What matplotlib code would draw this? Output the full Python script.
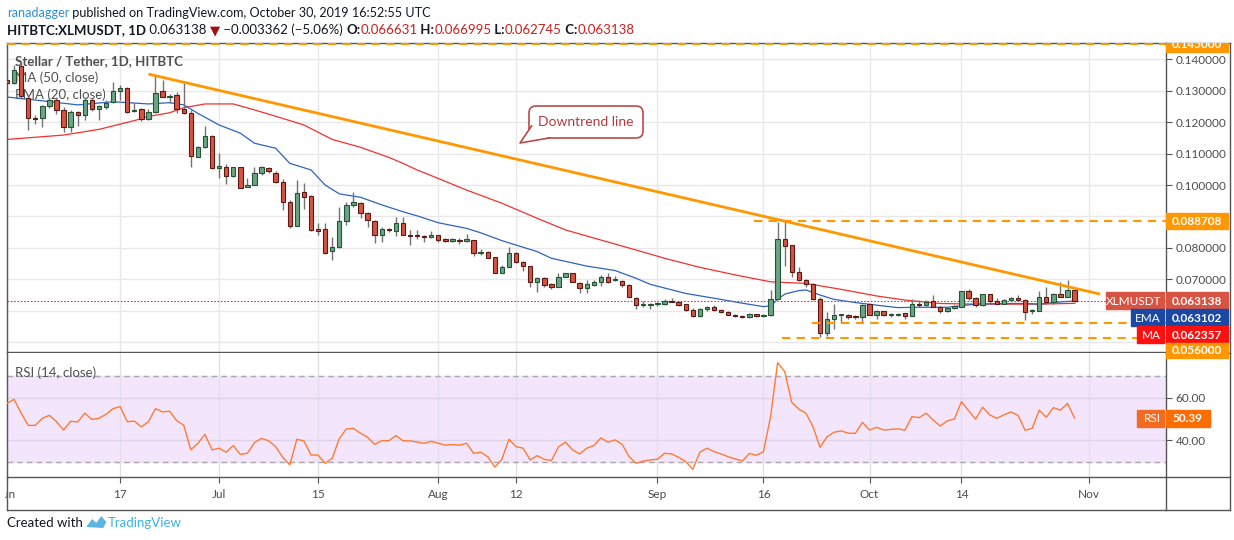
import numpy as np
import matplotlib
matplotlib.use('Agg')
import matplotlib.pyplot as plt
from matplotlib.patches import Rectangle, FancyBboxPatch, Polygon
from matplotlib.transforms import Bbox

plt.rcParams['font.family'] = ['Lato', 'DejaVu Sans']

# daily candles, 1 Jun 2019 (day 0) .. 30 Oct 2019 (day 151)
opens = [0.1334, 0.1326, 0.1380, 0.1276, 0.1214, 0.1212, 0.1252, 0.1269, 0.1239, 0.1184,
         0.1233, 0.1223, 0.1269, 0.1241, 0.1247, 0.1265, 0.1299, 0.1308, 0.1234, 0.1241,
         0.1209, 0.1233, 0.1299, 0.1280, 0.1286, 0.1241, 0.1228, 0.1088, 0.1120, 0.1156,
         0.1053, 0.1058, 0.1029, 0.1056, 0.0993, 0.1000, 0.1037, 0.1053, 0.1039, 0.1011,
         0.0947, 0.0871, 0.0979, 0.0966, 0.0859, 0.0859, 0.0791, 0.0804, 0.0884, 0.0935,
         0.0944, 0.0910, 0.0887, 0.0840, 0.0860, 0.0855, 0.0878, 0.0842, 0.0841, 0.0836,
         0.0834, 0.0840, 0.0827, 0.0821, 0.0825, 0.0821, 0.0825, 0.0783, 0.0787, 0.0770,
         0.0719, 0.0738, 0.0783, 0.0754, 0.0743, 0.0690, 0.0703, 0.0685, 0.0677, 0.0706,
         0.0719, 0.0687, 0.0671, 0.0681, 0.0690, 0.0706, 0.0697, 0.0696, 0.0683, 0.0640,
         0.0617, 0.0619, 0.0620, 0.0621, 0.0632, 0.0629, 0.0621, 0.0601, 0.0583, 0.0604,
         0.0613, 0.0601, 0.0596, 0.0588, 0.0584, 0.0580, 0.0589, 0.0583, 0.0585, 0.0636,
         0.0827, 0.0809, 0.0722, 0.0698, 0.0684, 0.0636, 0.0528, 0.0573, 0.0585, 0.0586,
         0.0584, 0.0579, 0.0620, 0.0588, 0.0598, 0.0585, 0.0586, 0.0592, 0.0584, 0.0620,
         0.0617, 0.0631, 0.0613, 0.0598, 0.0608, 0.0613, 0.0662, 0.0640, 0.0617, 0.0652,
         0.0632, 0.0623, 0.0634, 0.0639, 0.0634, 0.0598, 0.0600, 0.0643, 0.0627, 0.0652,
         0.0645, 0.066631]
highs = [0.1338, 0.1382, 0.1395, 0.1285, 0.1223, 0.1255, 0.1281, 0.1281, 0.1249, 0.1239,
         0.1237, 0.1281, 0.1276, 0.1255, 0.1271, 0.1327, 0.1318, 0.1313, 0.1260, 0.1244,
         0.1241, 0.1347, 0.1334, 0.1290, 0.1297, 0.1329, 0.1239, 0.1124, 0.1188, 0.1159,
         0.1101, 0.1066, 0.1058, 0.1058, 0.1021, 0.1058, 0.1060, 0.1056, 0.1046, 0.1018,
         0.0952, 0.1016, 0.1005, 0.0968, 0.0880, 0.0880, 0.0836, 0.0931, 0.0947, 0.0979,
         0.0947, 0.0915, 0.0889, 0.0868, 0.0862, 0.0899, 0.0899, 0.0857, 0.0857, 0.0841,
         0.0855, 0.0841, 0.0833, 0.0830, 0.0830, 0.0844, 0.0825, 0.0795, 0.0790, 0.0770,
         0.0745, 0.0802, 0.0786, 0.0758, 0.0743, 0.0708, 0.0706, 0.0689, 0.0721, 0.0721,
         0.0721, 0.0691, 0.0698, 0.0698, 0.0713, 0.0721, 0.0711, 0.0698, 0.0685, 0.0645,
         0.0632, 0.0625, 0.0629, 0.0636, 0.0639, 0.0632, 0.0623, 0.0608, 0.0608, 0.0616,
         0.0618, 0.0606, 0.0600, 0.0591, 0.0586, 0.0592, 0.0590, 0.0589, 0.0666, 0.0883,
         0.0889, 0.0809, 0.0740, 0.0701, 0.0687, 0.0645, 0.0597, 0.0621, 0.0591, 0.0591,
         0.0586, 0.0621, 0.0623, 0.0602, 0.0600, 0.0592, 0.0592, 0.0594, 0.0636, 0.0634,
         0.0634, 0.0650, 0.0615, 0.0613, 0.0617, 0.0664, 0.0668, 0.0643, 0.0652, 0.0652,
         0.0640, 0.0636, 0.0643, 0.0649, 0.0636, 0.0605, 0.0664, 0.0674, 0.0655, 0.0692,
         0.0698, 0.066995]
lows = [0.1322, 0.1323, 0.1275, 0.1175, 0.1194, 0.1186, 0.1244, 0.1226, 0.1170, 0.1170,
        0.1188, 0.1207, 0.1234, 0.1207, 0.1241, 0.1262, 0.1270, 0.1228, 0.1233, 0.1205,
        0.1207, 0.1230, 0.1281, 0.1260, 0.1228, 0.1226, 0.1056, 0.1088, 0.1119, 0.1052,
        0.1021, 0.1003, 0.1027, 0.0990, 0.0993, 0.1000, 0.1032, 0.1037, 0.1005, 0.0921,
        0.0862, 0.0871, 0.0923, 0.0855, 0.0841, 0.0781, 0.0762, 0.0799, 0.0873, 0.0931,
        0.0894, 0.0868, 0.0817, 0.0820, 0.0852, 0.0838, 0.0841, 0.0809, 0.0827, 0.0820,
        0.0830, 0.0820, 0.0819, 0.0820, 0.0811, 0.0819, 0.0774, 0.0777, 0.0767, 0.0719,
        0.0719, 0.0738, 0.0753, 0.0727, 0.0676, 0.0661, 0.0677, 0.0670, 0.0677, 0.0706,
        0.0691, 0.0657, 0.0657, 0.0679, 0.0679, 0.0687, 0.0696, 0.0677, 0.0643, 0.0606,
        0.0613, 0.0606, 0.0616, 0.0617, 0.0627, 0.0615, 0.0600, 0.0581, 0.0581, 0.0600,
        0.0598, 0.0592, 0.0585, 0.0581, 0.0578, 0.0576, 0.0581, 0.0581, 0.0583, 0.0636,
        0.0743, 0.0708, 0.0696, 0.0674, 0.0634, 0.0517, 0.0520, 0.0541, 0.0562, 0.0575,
        0.0575, 0.0565, 0.0586, 0.0574, 0.0583, 0.0581, 0.0583, 0.0574, 0.0582, 0.0611,
        0.0615, 0.0611, 0.0594, 0.0595, 0.0606, 0.0613, 0.0634, 0.0611, 0.0615, 0.0621,
        0.0621, 0.0621, 0.0632, 0.0632, 0.0571, 0.0589, 0.0598, 0.0621, 0.0623, 0.0645,
        0.0645, 0.062745]
closes = [0.1325, 0.1366, 0.1282, 0.1212, 0.1210, 0.1251, 0.1271, 0.1239, 0.1186, 0.1233,
          0.1223, 0.1271, 0.1241, 0.1250, 0.1262, 0.1299, 0.1308, 0.1233, 0.1238, 0.1209,
          0.1233, 0.1294, 0.1281, 0.1284, 0.1241, 0.1228, 0.1092, 0.1120, 0.1156, 0.1053,
          0.1060, 0.1029, 0.1056, 0.0992, 0.1000, 0.1037, 0.1056, 0.1046, 0.1011, 0.0947,
          0.0871, 0.0976, 0.0963, 0.0857, 0.0855, 0.0785, 0.0804, 0.0887, 0.0937, 0.0947,
          0.0910, 0.0889, 0.0841, 0.0859, 0.0856, 0.0878, 0.0842, 0.0839, 0.0837, 0.0834,
          0.0841, 0.0825, 0.0821, 0.0827, 0.0821, 0.0827, 0.0783, 0.0788, 0.0769, 0.0719,
          0.0738, 0.0783, 0.0754, 0.0743, 0.0692, 0.0704, 0.0683, 0.0677, 0.0706, 0.0719,
          0.0691, 0.0671, 0.0684, 0.0691, 0.0707, 0.0692, 0.0699, 0.0682, 0.0645, 0.0618,
          0.0621, 0.0622, 0.0624, 0.0631, 0.0629, 0.0617, 0.0602, 0.0583, 0.0604, 0.0612,
          0.0601, 0.0595, 0.0588, 0.0583, 0.0580, 0.0590, 0.0583, 0.0587, 0.0636, 0.0827,
          0.0807, 0.0722, 0.0698, 0.0684, 0.0636, 0.0528, 0.0573, 0.0586, 0.0589, 0.0581,
          0.0579, 0.0618, 0.0588, 0.0598, 0.0585, 0.0590, 0.0590, 0.0584, 0.0620, 0.0617,
          0.0629, 0.0613, 0.0599, 0.0610, 0.0615, 0.0662, 0.0640, 0.0617, 0.0652, 0.0631,
          0.0623, 0.0634, 0.0639, 0.0634, 0.0595, 0.0602, 0.0643, 0.0627, 0.0652, 0.0645,
          0.0666, 0.063138]

# moving averages (day index, value)
ema_days = [0, 5, 10, 15, 20, 23, 25, 27, 30, 33, 35, 38, 40, 43, 45, 47, 50, 53, 56, 58,
            61, 65, 67, 70, 72, 75, 77, 82, 86, 89, 91, 96, 101, 104, 107, 108, 109, 110,
            112, 113, 115, 117, 120, 124, 126, 129, 133, 137, 141, 144, 146, 149, 151]
ema_vals = [0.1280, 0.1268, 0.1255, 0.1265, 0.1258, 0.1262, 0.1255, 0.1228, 0.1191, 0.1165,
            0.1133, 0.1117, 0.1069, 0.1048, 0.1000, 0.0972, 0.0961, 0.0937, 0.0915, 0.0902,
            0.0880, 0.0862, 0.0848, 0.0823, 0.0809, 0.0788, 0.0767, 0.0742, 0.0728, 0.0703,
            0.0684, 0.0655, 0.0636, 0.0624, 0.0613, 0.0616, 0.0636, 0.0653, 0.0664, 0.0666,
            0.0650, 0.0636, 0.0626, 0.0615, 0.0610, 0.0611, 0.0611, 0.0621, 0.0623, 0.0623,
            0.0621, 0.0628, 0.063102]
ma_days = [0, 4, 8, 13, 18, 20, 23, 25, 28, 32, 35, 39, 42, 46, 50, 54, 56, 58, 60, 65,
           70, 75, 79, 84, 89, 93, 98, 103, 108, 113, 118, 123, 127, 132, 137, 142, 146, 151]
ma_vals = [0.1145, 0.1152, 0.1159, 0.1177, 0.1205, 0.1218, 0.1230, 0.1246, 0.1258, 0.1258,
           0.1239, 0.1212, 0.1191, 0.1145, 0.1120, 0.1088, 0.1069, 0.1048, 0.1030, 0.0984,
           0.0942, 0.0894, 0.0857, 0.0825, 0.0793, 0.0767, 0.0738, 0.0714, 0.0692, 0.0687,
           0.0668, 0.0647, 0.0634, 0.0623, 0.0621, 0.0621, 0.0621, 0.062357]

rsi = [57.3, 59.2, 52.7, 47.0, 47.0, 50.3, 51.7, 48.7, 44.8, 48.9,
       48.6, 52.7, 49.8, 50.3, 52.2, 54.8, 55.8, 48.7, 49.0, 46.3,
       48.7, 54.8, 53.3, 53.6, 49.2, 47.0, 35.5, 38.6, 42.8, 35.5,
       36.3, 34.4, 37.5, 33.4, 33.9, 38.9, 40.9, 39.8, 37.0, 32.0,
       28.5, 40.5, 39.7, 33.1, 33.1, 29.2, 31.6, 40.8, 45.3, 45.6,
       43.3, 41.4, 38.1, 39.8, 39.8, 42.2, 39.8, 39.7, 39.2, 38.6,
       39.5, 38.6, 37.7, 38.0, 37.7, 38.6, 33.9, 34.4, 32.3, 27.4,
       31.1, 40.5, 37.0, 36.3, 30.8, 32.8, 31.1, 30.5, 36.9, 39.1,
       35.5, 33.6, 36.3, 37.5, 41.1, 39.1, 40.2, 38.1, 32.3, 29.2,
       30.3, 30.8, 31.1, 33.9, 33.6, 32.0, 30.0, 26.4, 34.4, 36.3,
       34.7, 33.6, 32.3, 31.3, 30.3, 33.8, 33.0, 34.7, 51.1, 76.4,
       72.2, 57.7, 54.6, 52.7, 46.4, 36.7, 41.7, 43.8, 44.4, 43.3,
       43.3, 48.4, 44.8, 46.1, 44.8, 45.1, 45.4, 44.7, 51.1, 50.6,
       52.7, 49.5, 46.7, 49.1, 50.0, 58.1, 53.9, 49.9, 55.5, 51.9,
       50.3, 51.9, 53.3, 51.7, 44.7, 45.6, 54.1, 50.8, 55.3, 54.1,
       57.3, 50.39]

# drawings
trend_days = [20, 154.6]
trend_vals = [0.1353, 0.0653]
levels = [0.145, 0.088708, 0.056, 0.0514]
level_start = [0, 105.7, 113.8, 109.6]

tick_days = [0, 16, 30, 44, 61, 72, 92, 107, 122, 135, 153]
tick_labels = ['Jun', '17', 'Jul', '15', 'Aug', '12', 'Sep', '16', 'Oct', '14', 'Nov']
price_ticks = [0.07, 0.08, 0.10, 0.11, 0.12, 0.13, 0.14]
price_grid = [0.05, 0.06, 0.07, 0.08, 0.09, 0.10, 0.11, 0.12, 0.13, 0.14]

W, H = 1234, 540
fig = plt.figure(figsize=(W / 100, H / 100), dpi=100)


def px_axes(x0, y0, x1, y1):
    return fig.add_axes([x0 / W, 1 - y1 / H, (x1 - x0) / W, (y1 - y0) / H])


# full-figure pixel overlay for decorations
ov = px_axes(0, 0, W, H)
ov.set_xlim(0, W)
ov.set_ylim(H, 0)
ov.axis('off')
ov.set_zorder(5)

days = np.arange(len(closes))
o, h, l, c = map(np.array, (opens, highs, lows, closes))
up = c >= o
xmin, xmax = 0.0, 1159 / 7.07

AX_COL = '#555555'
GRID = '#e8e8e8'

# ---- price panel
ax = px_axes(7, 43, 1166, 352)
ax.set_zorder(1)
ax.set_xlim(xmin, xmax)
ax.set_ylim(0.04687, 0.14519)
for t in tick_days:
    ax.axvline(t, color=GRID, lw=1, zorder=0)
for g in price_grid:
    ax.axhline(g, color=GRID, lw=1, zorder=0)

# legend sits under the candles, as on the original
legend_kw = dict(color='#505050', fontsize=9.5, va='center', ha='left',
                 transform=ov.transData, zorder=1)
ax.text(15, 61, 'Stellar / Tether, 1D, HITBTC', fontweight='bold', **legend_kw)
ax.text(15, 78, 'MA (50, close)', **legend_kw)
ax.text(15, 95, 'EMA (20, close)', **legend_kw)

ax.plot(ma_days, ma_vals, color='#f5302f', lw=0.9, zorder=2)
ax.plot(ema_days, ema_vals, color='#2d62c4', lw=0.9, zorder=2)
ax.axhline(closes[-1], color='#e53935', lw=0.8, ls=(0, (1.5, 1.5)), zorder=2)

ax.vlines(days, l, h, color='#737375', lw=1, zorder=3)
ax.bar(days, np.maximum(np.abs(c - o), 0.00028), bottom=np.minimum(o, c), width=0.62,
       color=np.where(up, '#6ba583', '#d75442'), edgecolor=np.where(up, '#225437', '#5b1a13'),
       linewidth=0.8, zorder=4)

ax.plot(trend_days, trend_vals, color='#ff9800', lw=2, solid_capstyle='butt', zorder=5)
for lv, st in zip(levels, level_start):
    ax.hlines(lv, st, xmax, color='#ff9800', lw=1.5, linestyles=(0, (4, 3)), zorder=5)

ax.yaxis.tick_right()
ax.set_yticks(price_ticks)
ax.set_yticklabels([f'{v:.6f}' for v in price_ticks])
ax.tick_params(axis='y', direction='out', length=4, color=AX_COL, labelcolor='#4c4c4c',
               labelsize=8.5, pad=3)
ax.tick_params(axis='x', length=0, labelbottom=False)
for s in ax.spines.values():
    s.set_color(AX_COL)
    s.set_linewidth(1)

# ---- RSI panel
ar = px_axes(7, 353, 1166, 477)
ar.set_zorder(1)
ar.set_xlim(xmin, xmax)
ar.set_ylim(22.8, 80.9)
ar.fill_between([xmin, xmax], 30, 70, color='#f3e6fc', zorder=0)
for t in tick_days:
    ar.axvline(t, color='#e3dde8', lw=1, zorder=0)
for g in (40, 60):
    ar.axhline(g, color='#ddd2e6', lw=1, zorder=0)
for g in (30, 70):
    ar.axhline(g, color='#a8a8a8', lw=1, ls=(0, (4, 3)), zorder=1)
ar.text(15, 373, 'RSI (14, close)', color='#505050', fontsize=9.5, va='center', ha='left',
        transform=ov.transData, zorder=2)
ar.plot(days, rsi, color='#ff7b33', lw=1, zorder=3)
ar.yaxis.tick_right()
ar.set_yticks([40, 60])
ar.set_yticklabels(['40.00', '60.00'])
ar.set_xticks(tick_days)
ar.set_xticklabels(tick_labels)
ar.tick_params(axis='y', direction='out', length=4, color=AX_COL, labelcolor='#4c4c4c',
               labelsize=8.5, pad=3)
ar.tick_params(axis='x', direction='out', length=4, color=AX_COL, labelcolor='#4c4c4c',
               labelsize=8.5, pad=5)
for s in ar.spines.values():
    s.set_color(AX_COL)
    s.set_linewidth(1)
ar.spines['top'].set_visible(False)
jun = ar.xaxis.get_major_ticks()[0].label1
jun.set_clip_on(True)
jun.set_clip_box(Bbox.from_extents(5, 0, W, H))


def ypx(axis, v):
    return H - axis.transData.transform((0, v))[1]


# ---- right scale tags (drawn above the frame lines)
axr = px_axes(1166, 43, 1230, 477)
axr.set_xlim(1166, 1230)
axr.set_ylim(477, 43)
axr.axis('off')
axr.set_zorder(6)


def value_tag(yc, text, color, x1=1228, hgt=16):
    axr.add_patch(Rectangle((1166, yc - hgt / 2), x1 - 1166, hgt, color=color, clip_on=True))
    axr.text(1172, yc + 0.5, text, color='white', fontsize=8.5, fontweight='bold',
             va='center', ha='left', clip_on=True)


def name_tag(yc, text, color, x0, hgt=16):
    ov.add_patch(Rectangle((x0, yc - hgt / 2), 1164 - x0, hgt, color=color))
    ov.text(1161, yc + 0.5, text, color='white', fontsize=8.5, va='center', ha='right')


ORANGE = '#ff9800'
value_tag(ypx(ax, 0.145), '0.145000', ORANGE)
value_tag(ypx(ax, 0.088708), '0.088708', ORANGE)
yc = ypx(ax, closes[-1])
value_tag(yc, f'{closes[-1]:.6f}', '#d75442', hgt=17)
name_tag(yc, 'XLMUSDT', '#d75442', 1106, hgt=17)
value_tag(yc + 17, f'{ema_vals[-1]:.6f}', '#1a48a3', hgt=17)
name_tag(yc + 17, 'EMA', '#1a48a3', 1131, hgt=17)
value_tag(yc + 34, f'{ma_vals[-1]:.6f}', '#ff1010', hgt=17)
name_tag(yc + 34, 'MA', '#ff1010', 1137, hgt=17)
value_tag(yc + 49.5, '0.056000', ORANGE, hgt=15)
yr = ypx(ar, rsi[-1])
value_tag(yr, f'{rsi[-1]:.2f}', '#ff6d00', x1=1210, hgt=17)
name_tag(yr, 'RSI', '#f26b21', 1137, hgt=17)

# frame around the scales
for xs, ys in [([1230, 1230], [43, 510]), ([7, 1230], [510, 510]), ([7, 7], [477, 510]),
               ([1166, 1166], [477, 510]), ([1166, 1230], [43, 43]),
               ([1166, 1230], [352.5, 352.5]), ([1166, 1230], [477, 477])]:
    ov.plot(xs, ys, color=AX_COL, lw=1)

# callout
ov.add_patch(FancyBboxPatch((529, 106), 114, 32, boxstyle='round,pad=0,rounding_size=7',
                            fc='white', ec='#b94a4a', lw=1.2, zorder=5))
ov.add_patch(Polygon([(531.5, 126), (520, 143), (549, 138.6)], closed=True, fc='white',
                     ec='none', zorder=6))
ov.plot([531.5, 520, 549], [126, 143, 138], color='#b94a4a', lw=1.2, zorder=7)
ov.text(586, 122, 'Downtrend line', color='#b23b3b', fontsize=10, ha='center', va='center',
        zorder=8)

# header
renderer = fig.canvas.get_renderer()


def run_text(x, y, parts, size):
    for s, color, weight in parts:
        t = ov.text(x, y, s, color=color, fontweight=weight, fontsize=size, va='center',
                    ha='left', family=['Lato', 'DejaVu Sans'])
        x += t.get_window_extent(renderer).width
    return x


DARK = '#131722'
RED = '#cc1f1f'
run_text(7, 13, [('ranadagger', '#2e8fd6', 'normal'),
                 (' published on TradingView.com, October 30, 2019 16:52:55 UTC', DARK, 'normal')],
         9.1)
run_text(7, 30, [('HITBTC:XLMUSDT, 1D', DARK, 'bold'), (' 0.063138 ', DARK, 'normal'),
                 ('\u25bc', '#a01010', 'normal'), (' \u22120.003362 (\u22125.06%) ', DARK, 'normal'),
                 ('O:', DARK, 'bold'), ('0.066631', RED, 'normal'),
                 (' H:', DARK, 'bold'), ('0.066995', RED, 'normal'),
                 (' L:', DARK, 'bold'), ('0.062745', RED, 'normal'),
                 (' C:', DARK, 'bold'), ('0.063138', RED, 'normal')], 9.5)

# footer
xe = run_text(7, 523, [('Created with ', DARK, 'normal')], 9.5)
ov.add_patch(Polygon([(xe, 527), (xe + 6, 519), (xe + 10, 523), (xe + 15, 516), (xe + 20, 522),
                      (xe + 17, 528)], closed=True, fc='#5ab4e5', ec='none'))
run_text(xe + 21, 523, [('TradingView', '#3bb3e4', 'normal')], 9.5)

fig.savefig('out.png', dpi=100)
